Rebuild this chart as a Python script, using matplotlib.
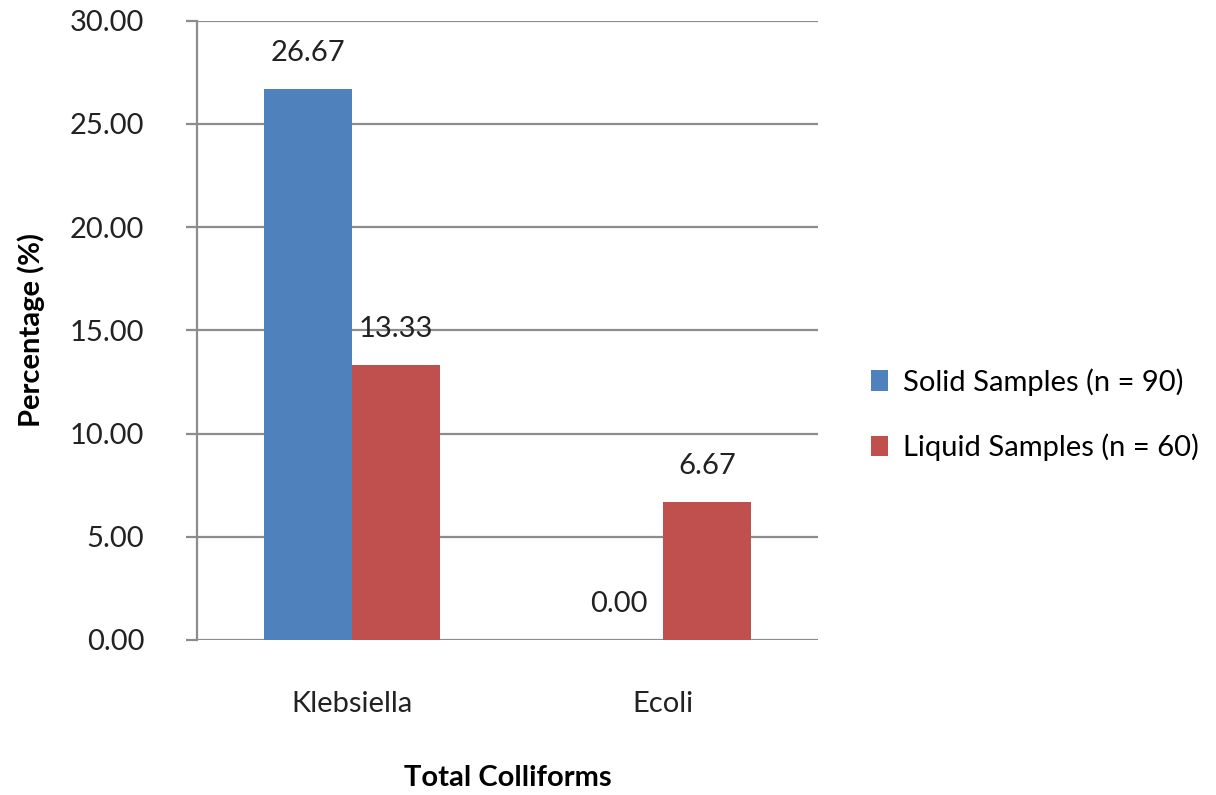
import numpy as np
import matplotlib.pyplot as plt

categories = ['Klebsiella', 'Ecoli']
solid = [26.67, 0.00]
liquid = [13.33, 6.67]
series_names = ['Solid Samples (n = 90)', 'Liquid Samples (n = 60)']
yticks = [0, 5, 10, 15, 20, 25, 30]

blue = '#4F81BD'
red = '#C0504D'
grid_grey = '#8C8C8C'

plt.rcParams['font.family'] = ['Lato', 'DejaVu Sans']
fs = 21

fig = plt.figure(figsize=(12.16, 7.95), dpi=100)
ax = fig.add_axes([0.162, 0.195, 0.511, 0.779])

x = np.arange(len(categories))
w = 0.283
b1 = ax.bar(x - w / 2, solid, w, color=blue, label=series_names[0], zorder=3)
b2 = ax.bar(x + w / 2, liquid, w, color=red, label=series_names[1], zorder=3)

for bars in (b1, b2):
    for rect in bars:
        h = rect.get_height()
        ax.annotate('%.2f' % h, (rect.get_x() + rect.get_width() / 2, h),
                    xytext=(0, 26), textcoords='offset points',
                    ha='center', va='center', fontsize=fs, color='#222222')

ax.set_xlim(-0.5, 1.5)
ax.set_ylim(0, 30)
ax.set_yticks(yticks)
ax.set_yticklabels(['%.2f' % t for t in yticks])
ax.set_xticks(x)
ax.set_xticklabels(categories)

ax.yaxis.grid(True, color=grid_grey, linewidth=1.6, zorder=0)
ax.set_axisbelow(True)
for s in ('top', 'right', 'bottom'):
    ax.spines[s].set_visible(False)
ax.spines['left'].set_color(grid_grey)
ax.spines['left'].set_linewidth(1.6)

ax.tick_params(axis='y', length=8, width=1.6, color=grid_grey, labelsize=fs,
               labelcolor='#222222', pad=30)
ax.tick_params(axis='x', length=0, labelsize=fs, labelcolor='#222222', pad=37)

ax.set_ylabel('Percentage (%)', fontsize=fs, fontweight='bold', labelpad=18)
ax.set_xlabel('Total Colliforms', fontsize=fs, fontweight='bold', labelpad=34)

ax.legend(loc='center left', bbox_to_anchor=(1.042, 0.364), frameon=False,
          fontsize=fs, handlelength=0.6, handleheight=0.7, handletextpad=0.5,
          labelspacing=1.3)

fig.savefig('out.png', dpi=100)
